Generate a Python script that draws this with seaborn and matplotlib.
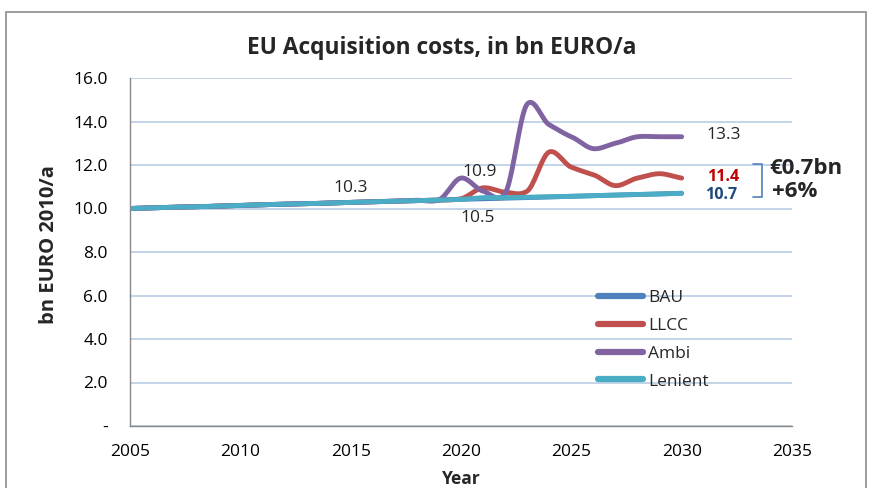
import numpy as np
import pandas as pd
import matplotlib
matplotlib.use("Agg")
import matplotlib.pyplot as plt
import seaborn as sns

years = list(range(2005, 2031))
bau = [10.00, 10.03, 10.06, 10.08, 10.11, 10.14, 10.17, 10.20, 10.22, 10.25,
       10.28, 10.31, 10.34, 10.36, 10.39, 10.42, 10.45, 10.48, 10.50, 10.53,
       10.56, 10.59, 10.62, 10.64, 10.67, 10.70]
llcc = [10.00, 10.03, 10.06, 10.08, 10.11, 10.14, 10.17, 10.20, 10.22, 10.25,
        10.28, 10.31, 10.34, 10.36, 10.39, 10.45, 10.95, 10.75, 10.80, 12.60,
        11.90, 11.55, 11.05, 11.40, 11.60, 11.40]
ambi = [10.00, 10.03, 10.06, 10.08, 10.11, 10.14, 10.17, 10.20, 10.22, 10.25,
        10.28, 10.31, 10.34, 10.38, 10.40, 11.40, 10.80, 10.70, 14.80, 13.85,
        13.30, 12.75, 13.00, 13.30, 13.30, 13.30]
lenient = [10.00, 10.03, 10.06, 10.08, 10.11, 10.14, 10.17, 10.20, 10.22, 10.25,
           10.28, 10.31, 10.34, 10.36, 10.39, 10.42, 10.50, 10.50, 10.52, 10.54,
           10.56, 10.59, 10.62, 10.64, 10.67, 10.70]
series_names = ["BAU", "LLCC", "Ambi", "Lenient"]
series_values = [bau, llcc, ambi, lenient]
colors = ["#4F81BD", "#C0504D", "#8064A2", "#4BACC6"]
y_ticks = [0, 2, 4, 6, 8, 10, 12, 14, 16]
y_tick_labels = ["-", "2.0", "4.0", "6.0", "8.0", "10.0", "12.0", "14.0", "16.0"]
x_ticks = [2005, 2010, 2015, 2020, 2025, 2030, 2035]


def smooth(x, y, n=20, tension=0.75):
    # cardinal-spline smoothing like a spreadsheet "smoothed line"
    x = np.asarray(x, float)
    y = np.asarray(y, float)
    m = np.zeros_like(y)
    m[1:-1] = (y[2:] - y[:-2]) / 2.0
    m[0] = y[1] - y[0]
    m[-1] = y[-1] - y[-2]
    m *= tension
    t = np.linspace(0, 1, n, endpoint=False)
    h00 = 2 * t ** 3 - 3 * t ** 2 + 1
    h10 = t ** 3 - 2 * t ** 2 + t
    h01 = -2 * t ** 3 + 3 * t ** 2
    h11 = t ** 3 - t ** 2
    xs, ys = [], []
    for i in range(len(y) - 1):
        xs.append(x[i] + (x[i + 1] - x[i]) * t)
        ys.append(h00 * y[i] + h10 * m[i] + h01 * y[i + 1] + h11 * m[i + 1])
    xs.append([x[-1]])
    ys.append([y[-1]])
    return np.concatenate(xs), np.concatenate(ys)


frames = []
for name, vals in zip(series_names, series_values):
    sx, sy = smooth(years, vals)
    frames.append(pd.DataFrame({"Year": sx, "Value": sy, "Scenario": name}))
df = pd.concat(frames, ignore_index=True)

sns.set_theme(style="white")
plt.rcParams["font.family"] = ["Open Sans", "DejaVu Sans"]

L, R, T, B = 130, 792, 78, 426
fig = plt.figure(figsize=(8.69, 4.88), dpi=100)
ax = fig.add_axes([L / 869, 1 - B / 488, (R - L) / 869, (B - T) / 488])

sns.lineplot(data=df, x="Year", y="Value", hue="Scenario", hue_order=series_names,
             palette=colors, estimator=None, sort=False,
             linewidth=3.5, ax=ax, solid_capstyle="round")

ax.set_xlim(2005, 2035)
ax.set_ylim(0, 16)
ax.set_yticks(y_ticks)
ax.set_yticklabels(y_tick_labels, fontsize=12.5, color="black")
ax.set_xticks(x_ticks)
ax.set_xticklabels([str(v) for v in x_ticks], fontsize=12.5, color="black")
ax.grid(axis="y", color="#B9CDE5", linewidth=1.2)
ax.set_axisbelow(True)
for s in ["top", "right"]:
    ax.spines[s].set_visible(False)
for s in ["left", "bottom"]:
    ax.spines[s].set_color("#888888")
    ax.spines[s].set_linewidth(1)
ax.tick_params(axis="both", direction="out", length=5, color="#888888", width=1)
ax.tick_params(axis="y", pad=11)
ax.tick_params(axis="x", pad=8)

ax.set_xlabel("Year", fontsize=12.5, fontweight="bold")
ax.xaxis.set_label_coords(0.5, (B - 479) / (B - T))
ax.xaxis.label.set_va("center")
ax.set_ylabel("bn EURO 2010/a", fontsize=14.5, fontweight="bold")
ax.yaxis.set_label_coords((49 - L) / (R - L), 0.52)
ax.yaxis.label.set_va("center")
fig.text(442 / 869, 1 - 48 / 488, "EU Acquisition costs, in bn EURO/a",
         fontsize=16.4, fontweight="bold", ha="center", va="center")

leg = ax.legend(loc="upper left", bbox_to_anchor=((598 - L) / (R - L), (B - 290) / (B - T)),
                frameon=False, fontsize=12.5, handlelength=2.6, labelspacing=0.67,
                borderaxespad=0, borderpad=0, handletextpad=0.3)
for h in leg.get_lines():
    h.set_linewidth(4.5)

ax.text(2015.0, 10.95, "10.3", fontsize=12.5, ha="center", va="center")
ax.text(2020.86, 11.68, "10.9", fontsize=12.5, ha="center", va="center")
ax.text(2020.77, 9.56, "10.5", fontsize=12.5, ha="center", va="center")
ax.text(2031.14, 13.38, "13.3", fontsize=12.5, ha="left", va="center")
ax.text(2031.14, 11.45, "11.4", fontsize=11.6, ha="left", va="center", color="#C00000", fontweight="bold")
ax.text(2031.05, 10.62, "10.7", fontsize=11.6, ha="left", va="center", color="#1F497D", fontweight="bold")

# bracket
bx0, bx1 = 2033.23, 2033.64
ax.plot([bx0, bx1, bx1, bx0], [12.05, 12.05, 10.53, 10.53], color="#4F81BD",
        linewidth=1.2, clip_on=False)
ax.text(2033.95, 11.82, "€0.7bn", fontsize=16, ha="left", va="center", fontweight="bold")
ax.text(2034.09, 10.76, "+6%", fontsize=16, ha="left", va="center", fontweight="bold")

# chart border
fig.patches.append(plt.Rectangle((6 / 869, -0.02), 860 / 869, 1 - 12 / 488 + 0.02,
                                 transform=fig.transFigure, fill=False,
                                 edgecolor="#8C8C8C", linewidth=1.2))

fig.savefig("out.png", dpi=100)
